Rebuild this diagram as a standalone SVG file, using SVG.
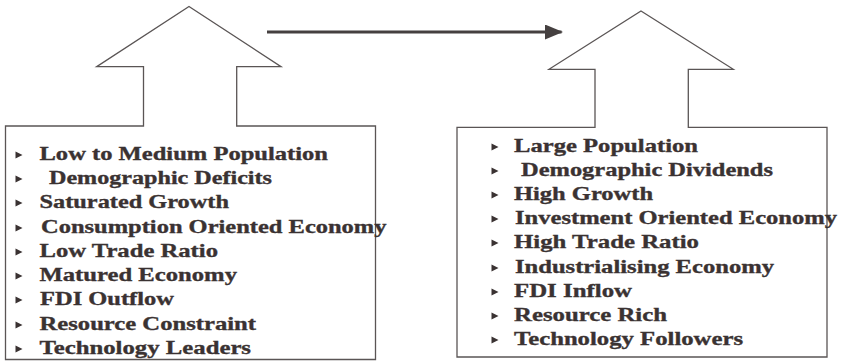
<svg xmlns="http://www.w3.org/2000/svg" width="841" height="361" viewBox="0 0 841 361">
  <style>
    .outline { fill: #ffffff; stroke: #5a5555; stroke-width: 1.3; stroke-linejoin: miter; }
    .item { font-family: "Liberation Serif", "Times New Roman", serif; font-weight: bold; font-size: 19px; fill: #3a3232; stroke: #3a3232; stroke-width: 0.35; }
    .bullet { fill: #3a3232; }
    .link { stroke: #454040; stroke-width: 3; fill: none; }
  </style>
  <defs>
    <polygon id="tri" class="bullet" points="0,-3.6 7,0 0,3.6"/>
    <marker id="head" markerWidth="6" markerHeight="5" refX="5.5" refY="2.5" orient="auto" markerUnits="strokeWidth">
      <polygon points="0,0 6,2.5 0,5" fill="#454040"/>
    </marker>
  </defs>
  <rect width="841" height="361" fill="#ffffff"/>

  <!-- developed economies: up-arrow with attribute list -->
  <g id="developed">
    <path class="outline" d="M189,6.5 L281,66.7 L236.7,66.7 L236.7,126 L375.5,126 L375.5,359.5 L5.5,359.5 L5.5,126 L143.5,126 L143.5,66.7 L96.7,66.7 Z"/>
    <use href="#tri" x="15.5" y="155"/>
    <use href="#tri" x="15.5" y="179"/>
    <use href="#tri" x="15.5" y="203"/>
    <use href="#tri" x="15.5" y="228"/>
    <use href="#tri" x="15.5" y="252"/>
    <use href="#tri" x="15.5" y="276"/>
    <use href="#tri" x="15.5" y="300"/>
    <use href="#tri" x="15.5" y="325"/>
    <use href="#tri" x="15.5" y="349"/>
    <text class="item" x="39.5" y="160" textLength="288.5" lengthAdjust="spacingAndGlyphs">Low to Medium Population</text>
    <text class="item" x="49" y="184" textLength="223" lengthAdjust="spacingAndGlyphs">Demographic Deficits</text>
    <text class="item" x="39.5" y="208" textLength="189.5" lengthAdjust="spacingAndGlyphs">Saturated Growth</text>
    <text class="item" x="41" y="233" textLength="345.5" lengthAdjust="spacingAndGlyphs">Consumption Oriented Economy</text>
    <text class="item" x="39.5" y="257" textLength="178.5" lengthAdjust="spacingAndGlyphs">Low Trade Ratio</text>
    <text class="item" x="39.5" y="281" textLength="197.5" lengthAdjust="spacingAndGlyphs">Matured Economy</text>
    <text class="item" x="40" y="305" textLength="134" lengthAdjust="spacingAndGlyphs">FDI Outflow</text>
    <text class="item" x="39.5" y="330" textLength="216.5" lengthAdjust="spacingAndGlyphs">Resource Constraint</text>
    <text class="item" x="39.5" y="354" textLength="211.5" lengthAdjust="spacingAndGlyphs">Technology Leaders</text>
  </g>

  <!-- emerging economies: up-arrow with attribute list -->
  <g id="emerging">
    <path class="outline" d="M641,11 L733.3,69.3 L688.3,69.3 L688.3,127.3 L827,127.3 L827,357 L457,357 L457,127.3 L595,127.3 L595,69.3 L549,69.3 Z"/>
    <use href="#tri" x="491.5" y="147"/>
    <use href="#tri" x="491.5" y="171"/>
    <use href="#tri" x="491.5" y="195"/>
    <use href="#tri" x="491.5" y="219"/>
    <use href="#tri" x="491.5" y="243"/>
    <use href="#tri" x="491.5" y="268"/>
    <use href="#tri" x="491.5" y="292"/>
    <use href="#tri" x="491.5" y="316"/>
    <use href="#tri" x="491.5" y="340"/>
    <text class="item" x="514" y="152" textLength="184" lengthAdjust="spacingAndGlyphs">Large Population</text>
    <text class="item" x="521" y="176" textLength="252" lengthAdjust="spacingAndGlyphs">Demographic Dividends</text>
    <text class="item" x="514" y="200" textLength="139" lengthAdjust="spacingAndGlyphs">High Growth</text>
    <text class="item" x="515" y="224" textLength="322" lengthAdjust="spacingAndGlyphs">Investment Oriented Economy</text>
    <text class="item" x="514" y="248" textLength="185" lengthAdjust="spacingAndGlyphs">High Trade Ratio</text>
    <text class="item" x="515" y="273" textLength="259" lengthAdjust="spacingAndGlyphs">Industrialising Economy</text>
    <text class="item" x="514" y="297" textLength="118" lengthAdjust="spacingAndGlyphs">FDI Inflow</text>
    <text class="item" x="514" y="321" textLength="153" lengthAdjust="spacingAndGlyphs">Resource Rich</text>
    <text class="item" x="514" y="345" textLength="229" lengthAdjust="spacingAndGlyphs">Technology Followers</text>
  </g>

  <!-- transition arrow -->
  <g id="connectors">
    <line class="link" x1="267" y1="32" x2="561.5" y2="32" marker-end="url(#head)"/>
  </g>
</svg>
